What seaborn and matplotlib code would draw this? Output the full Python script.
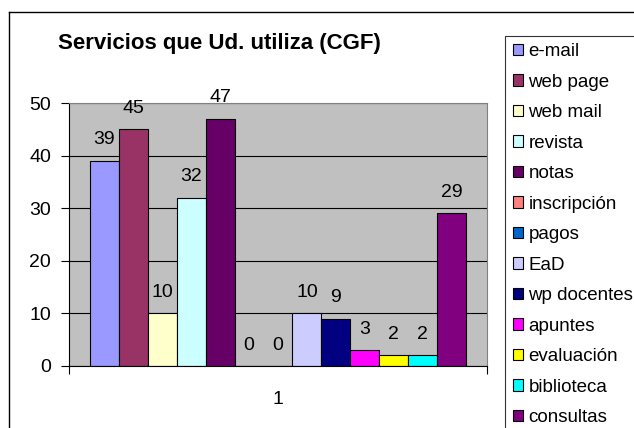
import matplotlib
matplotlib.use("Agg")
import matplotlib.pyplot as plt
import seaborn as sns
import pandas as pd
from matplotlib.patches import Patch
from matplotlib.lines import Line2D

services = ["e-mail", "web page", "web mail", "revista", "notas", "inscripción", "pagos",
            "EaD", "wp docentes", "apuntes", "evaluación", "biblioteca", "consultas"]
values = [39, 45, 10, 32, 47, 0, 0, 10, 9, 3, 2, 2, 29]
colors = ["#9999FF", "#993366", "#FFFFCC", "#CCFFFF", "#660066", "#FF8080", "#0066CC",
          "#CCCCFF", "#000080", "#FF00FF", "#FFFF00", "#00FFFF", "#800080"]
category = ["1"]
title = "Servicios que Ud. utiliza (CGF)"
yticks = [0, 10, 20, 30, 40, 50]

plt.rcParams["font.family"] = ["Liberation Sans", "DejaVu Sans"]

W, H = 634, 428
fig = plt.figure(figsize=(W / 100, H / 100), dpi=100)
fig.patch.set_facecolor("white")
ax = fig.add_axes([69 / W, (H - 366) / H, 418 / W, 263 / H])

df = pd.DataFrame({"cat": category * len(services), "svc": services, "val": values})
sns.barplot(data=df, x="cat", y="val", hue="svc", hue_order=services, palette=colors,
            width=0.9, gap=0, saturation=1, edgecolor="black", linewidth=0.8,
            legend=False, errorbar=None, ax=ax)

ax.set_facecolor("#C0C0C0")
ax.set_ylim(0, 50)
ax.set_xlim(-0.5, 0.5)
ax.set_yticks(yticks)
ax.yaxis.grid(True, color="black", linewidth=0.8)
ax.set_axisbelow(True)
ax.set_xlabel("")
ax.set_ylabel("")
for s in ["left", "bottom"]:
    ax.spines[s].set_color("black")
    ax.spines[s].set_linewidth(0.8)
for s in ["top", "right"]:
    ax.spines[s].set_color("#808080")
    ax.spines[s].set_linewidth(0.8)

ax.tick_params(axis="y", direction="out", length=6, width=0.8, labelsize=14, pad=7)
ax.tick_params(axis="x", which="major", length=0, labelsize=14, pad=18)
ax.set_xticks([-0.5, 0.5], minor=True)
ax.tick_params(axis="x", which="minor", direction="out", length=6, width=0.8)

for c in ax.containers:
    ax.bar_label(c, padding=9, fontsize=14)

fig.text(57.5 / W, 1 - 44 / H, title, fontsize=16, fontweight="bold", ha="left", va="center")

# outer chart border (clipped at right/bottom like the reference)
fig.add_artist(Line2D([9 / W, 9 / W], [0, 1 - 12 / H], transform=fig.transFigure, color="black", lw=1))
fig.add_artist(Line2D([9 / W, 1], [1 - 12 / H, 1 - 12 / H], transform=fig.transFigure, color="black", lw=1))

handles = [Patch(facecolor=c, edgecolor="black", linewidth=0.8, label=s) for s, c in zip(services, colors)]
leg = fig.legend(handles=handles, loc="upper left", bbox_to_anchor=(505 / W, 1 - 35.7 / H),
                 frameon=True, fancybox=False, edgecolor="black", fontsize=13.5,
                 handlelength=0.55, handleheight=0.55, handletextpad=0.3,
                 labelspacing=0.72, borderpad=0.4, borderaxespad=0)
leg.get_frame().set_linewidth(0.8)

fig.savefig("out.png", dpi=100)
